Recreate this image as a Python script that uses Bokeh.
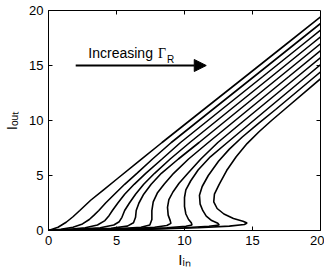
from bokeh.plotting import figure
from bokeh.models import Range1d, FixedTicker, Label, Arrow, NormalHead
from bokeh.embed import file_html
from bokeh.resources import INLINE

# I_in (x) and I_out (y) samples for each curve (bottom = largest Gamma_R)
c1_out = [0, 0.3, 0.75, 1.25, 1.82, 2.75, 3.7, 4.75, 6.35, 8, 11, 14, 17, 20]
c1_in = [0, 0.7, 1.3, 1.8, 2.3, 3.1, 4.05, 5.1, 6.7, 8.35, 11.41, 14.48, 17.54, 20.6]

c2_out = [0, 0.1, 0.3, 0.6, 1.0, 1.4, 1.82, 2.5, 3.3, 4.2, 5.2, 6.5, 8, 11, 14, 17, 20]
c2_in = [0, 0.9, 1.8, 2.5, 3.0, 3.35, 3.7, 4.2, 4.85, 5.6, 6.5, 7.65, 9.03, 12.07, 15.12, 18.16, 21.2]

c3_out = [0, 0.1, 0.25, 0.5, 0.9, 1.35, 1.82, 2.5, 3.3, 4.2, 5.2, 6.5, 8, 11, 14, 17, 20]
c3_in = [0, 1.5, 2.7, 3.6, 4.15, 4.45, 4.7, 5.1, 5.6, 6.3, 7.15, 8.35, 9.71, 12.73, 15.76, 18.78, 21.8]

c4_out = [0, 0.1, 0.25, 0.5, 0.8, 1.2, 1.82, 2.5, 3.3, 4.2, 5.2, 6.5, 8, 11, 14, 17, 20]
c4_in = [0, 2.0, 3.8, 4.8, 5.2, 5.4, 5.6, 5.95, 6.4, 7.0, 7.8, 8.95, 10.39, 13.39, 16.4, 19.4, 22.4]

c5_out = [0, 0.08, 0.2, 0.4, 0.7, 1.2, 1.82, 2.5, 3.3, 4.2, 5.2, 6.5, 8, 11, 14, 17, 20]
c5_in = [0, 2.5, 4.6, 5.8, 6.25, 6.4, 6.45, 6.65, 7.0, 7.55, 8.3, 9.55, 11.07, 14.05, 17.04, 20.02, 23.0]

c6_out = [0, 0.06, 0.15, 0.3, 0.5, 1.0, 1.8, 2.6, 3.4, 4.2, 5.2, 6.5, 8, 11, 14, 17, 20]
c6_in = [0, 2.5, 5.0, 6.8, 7.45, 7.6, 7.6, 7.7, 8.0, 8.5, 9.2, 10.3, 11.75, 14.71, 17.68, 20.64, 23.6]

c7_out = [0, 0.06, 0.15, 0.3, 0.45, 0.65, 0.9, 1.4, 2.1, 2.8, 3.5, 4.3, 5.2, 6.5, 8, 9.5, 11, 14, 17, 20]
c7_in = [0, 3.0, 5.8, 7.8, 8.7, 9.0, 8.95, 8.8, 8.75, 8.85, 9.15, 9.6, 10.25, 11.2, 12.45, 13.9, 15.37, 18.32, 21.26, 24.2]

c8_out = [0, 0.05, 0.12, 0.25, 0.38, 0.5, 0.7, 1.0, 1.5, 2.2, 3.0, 3.7, 4.5, 5.5, 6.7, 8, 9.5, 11, 14, 17, 20]
c8_in = [0, 3.0, 6.0, 8.7, 10.1, 10.55, 10.5, 10.3, 10.1, 10.0, 10.0, 10.1, 10.45, 11.0, 11.9, 13.15, 14.6, 16.05, 18.96, 21.88, 24.8]

c9_out = [0, 0.05, 0.12, 0.25, 0.38, 0.5, 0.65, 0.9, 1.3, 1.8, 2.4, 3.2, 4.0, 5.0, 6.3, 7.4, 8.5, 9.7, 11, 14, 17, 20]
c9_in = [0, 3.5, 7.0, 10.0, 11.8, 12.55, 12.45, 12.0, 11.6, 11.35, 11.15, 11.1, 11.3, 11.75, 12.5, 13.3, 14.25, 15.4, 16.7, 19.6, 22.5, 25.4]

c10_out = [0, 0.05, 0.12, 0.25, 0.4, 0.55, 0.68, 0.85, 1.1, 1.5, 2.0, 2.6, 3.3, 4.2, 5.45, 6.7, 7.9, 9.0, 10.0, 11.0, 14.0, 17.0, 20.0]
c10_in = [0, 3.5, 7.5, 11.0, 13.3, 14.4, 14.6, 14.3, 13.6, 12.9, 12.4, 12.15, 12.2, 12.55, 13.1, 13.8, 14.6, 15.5, 16.4, 17.35, 20.2, 23.1, 26.0]

curves_in = [c1_in, c2_in, c3_in, c4_in, c5_in, c6_in, c7_in, c8_in, c9_in, c10_in]
curves_out = [c1_out, c2_out, c3_out, c4_out, c5_out, c6_out, c7_out, c8_out, c9_out, c10_out]

x_ticks = [0, 5, 10, 15, 20]
y_ticks = [0, 5, 10, 15, 20]
x_title = "I\u1d62\u2099"          # I with subscript "in"
y_title = "I\u2092\u1d64\u209c"    # I with subscript "out"

FONT = "Liberation Sans"
X0, X1, Y0, Y1 = 0, 20, 0, 20

W, H = 324, 272
ML, MR, MT, MB = 47, 4, 10, 42

p = figure(width=W, height=H, output_backend="svg", toolbar_location=None,
           x_range=Range1d(X0, X1), y_range=Range1d(Y0, Y1),
           min_border_left=ML, min_border_right=MR, min_border_top=MT, min_border_bottom=MB)
p.background_fill_color = "white"
p.border_fill_color = "white"
p.outline_line_color = "black"
p.xgrid.visible = False
p.ygrid.visible = False

for ax, ticks in ((p.xaxis[0], x_ticks), (p.yaxis[0], y_ticks)):
    ax.ticker = FixedTicker(ticks=ticks)
    ax.major_tick_in = 4
    ax.major_tick_out = 0
    ax.minor_tick_line_color = None
    ax.axis_line_color = "black"
    ax.major_tick_line_color = "black"
    ax.major_label_text_font = FONT
    ax.major_label_text_font_size = "13px"
    ax.major_label_text_color = "black"
    ax.major_label_standoff = 5
    ax.axis_label_text_font = FONT
    ax.axis_label_text_font_size = "15px"
    ax.axis_label_text_font_style = "normal"
    ax.axis_label_text_color = "black"

p.xaxis[0].axis_label = x_title
p.xaxis[0].axis_label_standoff = 3
p.yaxis[0].axis_label = y_title
p.yaxis[0].axis_label_standoff = 6

# inward ticks on the top and right edges (mirror of the axis ticks, 4 px long)
frame_w = W - ML - MR
frame_h = H - MT - MB
tick_dx = 4 * (X1 - X0) / frame_w
tick_dy = 4 * (Y1 - Y0) / frame_h
inner_x = [t for t in x_ticks if X0 < t < X1]
inner_y = [t for t in y_ticks if Y0 < t < Y1]
p.segment(x0=inner_x, y0=[Y1] * len(inner_x), x1=inner_x, y1=[Y1 - tick_dy] * len(inner_x),
          line_color="black", line_width=1)
p.segment(x0=[X1] * len(inner_y), y0=inner_y, x1=[X1 - tick_dx] * len(inner_y), y1=inner_y,
          line_color="black", line_width=1)

for xs, ys in zip(curves_in, curves_out):
    p.line(xs, ys, line_color="black", line_width=1.6)

# arrow and annotation
p.add_layout(Arrow(end=NormalHead(size=12, fill_color="black", line_color="black"),
                   x_start=2.0, y_start=15, x_end=11.6, y_end=15,
                   line_width=2, line_color="black"))
p.add_layout(Label(x=2.93, y=16.1, text="Increasing", text_font=FONT, text_font_size="14px",
                   text_color="black", text_baseline="alphabetic"))
p.add_layout(Label(x=8.06, y=16.1, text="Γ", text_font="Liberation Serif", text_font_size="14px",
                   text_color="black", text_baseline="alphabetic"))
p.add_layout(Label(x=8.72, y=15.55, text="R", text_font=FONT, text_font_size="10px",
                   text_color="black", text_baseline="alphabetic"))

open("out.html", "w").write(file_html(p, INLINE))
